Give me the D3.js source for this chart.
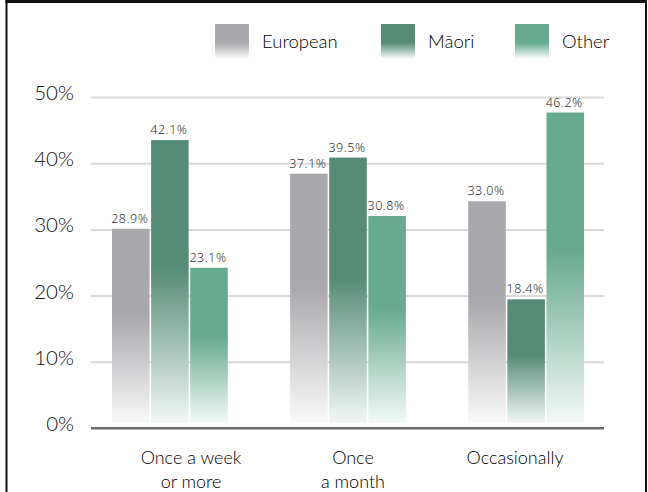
<!DOCTYPE html>
<html>
<head>
<meta charset="utf-8">
<script src="https://cdn.jsdelivr.net/npm/d3@7"></script>
<style>
  html, body { margin: 0; padding: 0; background: #fff; }
  svg { display: block; }
</style>
</head>
<body>
<svg id="chart" width="648" height="492"></svg>
<script>
// Frequency categories (x axis), split over two lines
const categories = ["Once a week or more", "Once a month", "Occasionally"];
const categoryLines = [["Once a week", "or more"], ["Once", "a month"], ["Occasionally"]];

// Ethnic groups (legend / series)
const seriesNames = ["European", "Māori", "Other"];
const seriesColors = ["#a9a9ad", "#558b77", "#68aa90"];

// Share of each group, per category (%)
const european = [28.9, 37.1, 33.0];
const maori = [42.1, 39.5, 18.4];
const other = [23.1, 30.8, 46.2];

// Y axis ticks
const yTicks = [0, 10, 20, 30, 40, 50];

const seriesValues = [european, maori, other];
const rows = categories.map((c, i) => ({
  category: c,
  values: seriesNames.map((s, j) => ({ series: s, value: seriesValues[j][i], idx: j }))
}));

const svg = d3.select("#chart");

const plotLeft = 91, plotRight = 604;
const uiFont = "Lato, 'Noto Sans', sans-serif";

// Axis scale and the scale the bars are drawn with
const y = d3.scaleLinear().domain([0, 50]).range([428, 97]);
const yBar = d3.scaleLinear().domain([0, 50]).range([423, 87]);

const x0 = d3.scaleBand().domain(categories).range([112, 584]).paddingInner(0.35).paddingOuter(0);
const x1 = d3.scaleBand().domain(seriesNames).range([0, x0.bandwidth()]).paddingInner(0.04);
const xLabel = d3.scalePoint().domain(categories).range([191, 515]);

// Vertical fades to white for bars and legend swatches
const defs = svg.append("defs");
function addFade(id, color, solidUntil, endMix) {
  const g = defs.append("linearGradient")
    .attr("id", id)
    .attr("x1", 0).attr("y1", 0).attr("x2", 0).attr("y2", 1);
  const end = d3.interpolateRgb(color, "#ffffff")(endMix);
  g.append("stop").attr("offset", "0").attr("stop-color", color);
  g.append("stop").attr("offset", solidUntil).attr("stop-color", color);
  g.append("stop").attr("offset", "1").attr("stop-color", end);
}
seriesColors.forEach((c, j) => {
  addFade("bar-grad-" + j, c, 0.45, 0.93);
  addFade("leg-grad-" + j, c, 0.55, 0.93);
});

// Y axis with gridlines
const yAxis = d3.axisLeft(y)
  .tickValues(yTicks)
  .tickSize(-(plotRight - plotLeft))
  .tickPadding(17)
  .tickFormat(d => d + "%");

const gy = svg.append("g")
  .attr("transform", `translate(${plotLeft},0)`)
  .call(yAxis);
gy.select(".domain").remove();
gy.selectAll(".tick line")
  .attr("stroke", d => d === 0 ? "#6b6b6b" : "#dadada")
  .attr("stroke-width", 2);
gy.selectAll(".tick text")
  .attr("fill", "#111")
  .attr("dy", "0.12em")
  .style("font-family", uiFont)
  .style("font-weight", 300)
  .style("font-size", "20.5px");

// Bars
const groups = svg.append("g").selectAll("g")
  .data(rows)
  .join("g")
  .attr("transform", d => `translate(${x0(d.category)},0)`);

groups.selectAll("rect")
  .data(d => d.values)
  .join("rect")
  .attr("x", d => x1(d.series))
  .attr("y", d => yBar(d.value))
  .attr("width", x1.bandwidth())
  .attr("height", d => yBar(0) - yBar(d.value))
  .attr("fill", d => `url(#bar-grad-${d.idx})`);

// Value labels
groups.selectAll("text.val")
  .data(d => d.values)
  .join("text")
  .attr("class", "val")
  .attr("x", d => x1(d.series) + x1.bandwidth() / 2 - 1)
  .attr("y", d => yBar(d.value) - 6)
  .attr("text-anchor", "middle")
  .attr("fill", "#333")
  .style("font-family", "'Noto Sans', sans-serif")
  .style("font-weight", 300)
  .style("font-size", "12.5px")
  .style("letter-spacing", "0.5px")
  .text(d => d.value.toFixed(1) + "%");

// Axis baseline drawn over bars
svg.append("line")
  .attr("x1", plotLeft).attr("x2", plotRight)
  .attr("y1", y(0)).attr("y2", y(0))
  .attr("stroke", "#6b6b6b").attr("stroke-width", 2);

// Category labels
const catText = svg.append("g").selectAll("text")
  .data(categories)
  .join("text")
  .attr("x", d => xLabel(d))
  .attr("y", 464)
  .attr("text-anchor", "middle")
  .attr("fill", "#000")
  .style("font-family", uiFont)
  .style("font-weight", 300)
  .style("font-size", "18px");
catText.selectAll("tspan")
  .data((d, i) => categoryLines[i])
  .join("tspan")
  .attr("x", function () { return d3.select(this.parentNode).attr("x"); })
  .attr("dy", (d, i) => i === 0 ? 0 : 24)
  .text(d => d);

// Legend
const legendX = d3.scaleOrdinal().domain(seriesNames).range([215, 381, 515]);
const legend = svg.append("g").selectAll("g")
  .data(seriesNames)
  .join("g")
  .attr("transform", d => `translate(${legendX(d)},24)`);
legend.append("rect")
  .attr("width", 34).attr("height", 34)
  .attr("fill", (d, i) => `url(#leg-grad-${i})`);
legend.append("text")
  .attr("x", 47).attr("y", 24)
  .attr("fill", "#000")
  .style("font-family", uiFont)
  .style("font-weight", 300)
  .style("font-size", "18.5px")
  .text(d => d);

// Frame
svg.append("line").attr("x1", 6.5).attr("x2", 6.5).attr("y1", 0).attr("y2", 492)
  .attr("stroke", "#111").attr("stroke-width", 2);
svg.append("line").attr("x1", 646).attr("x2", 646).attr("y1", 0).attr("y2", 492)
  .attr("stroke", "#111").attr("stroke-width", 2);
svg.append("line").attr("x1", 5.5).attr("x2", 647).attr("y1", 1.5).attr("y2", 1.5)
  .attr("stroke", "#111").attr("stroke-width", 3);
</script>
</body>
</html>
